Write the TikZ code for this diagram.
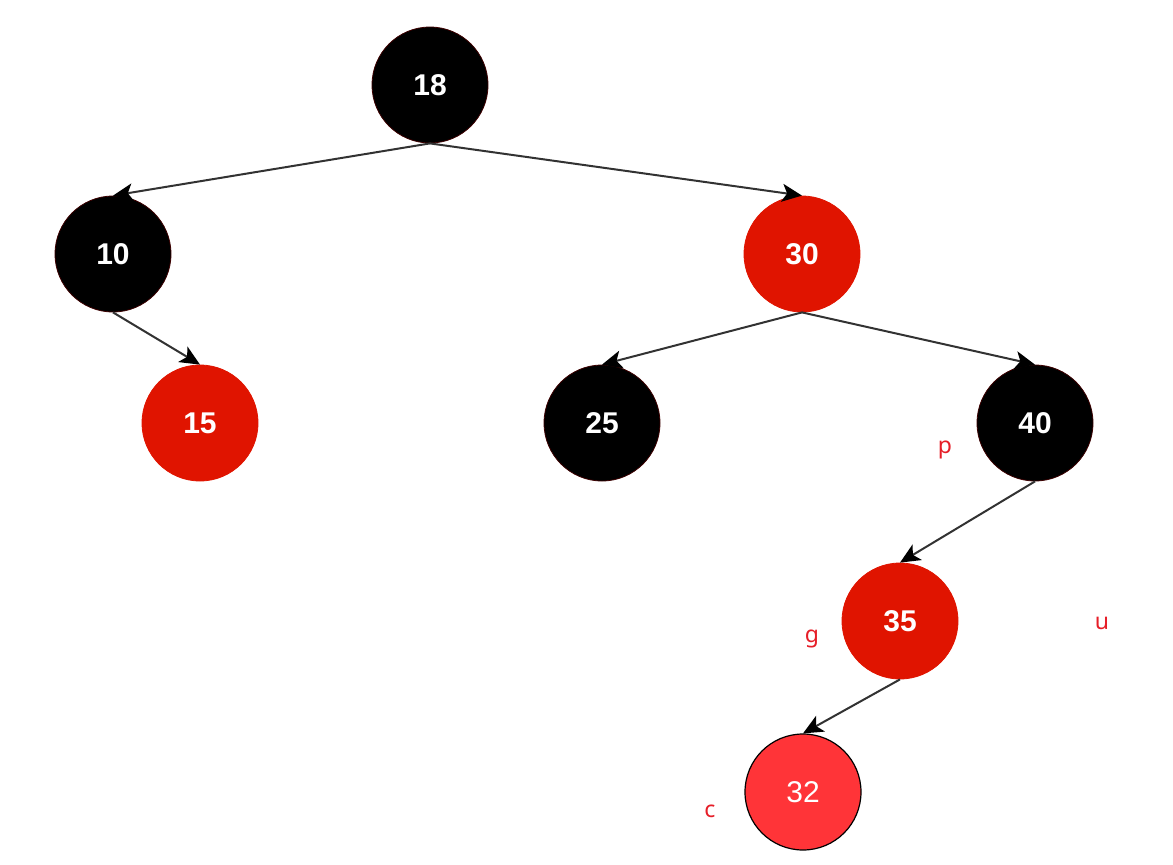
\documentclass[tikz,border=0pt]{standalone}
\usepackage{fontspec}
\setmainfont{Liberation Sans}
\newfontfamily\lblfont{Noto Sans}
\usetikzlibrary{arrows.meta}
\definecolor{rbred}{RGB}{224,20,0}
\definecolor{rblight}{RGB}{255,52,56}
\definecolor{lblred}{RGB}{230,30,40}
\definecolor{edgegray}{RGB}{50,50,50}
\begin{document}
\begin{tikzpicture}[x=1pt,y=-1pt,
  rbnode/.style={circle,minimum size=116pt,inner sep=0pt,text=white,font=\fontsize{30}{32}\selectfont\bfseries},
  blk/.style={rbnode,fill=black,draw={rgb,255:red,60;green,0;blue,0},line width=0.8pt},
  redn/.style={rbnode,fill=rbred,draw=rbred,line width=0.8pt},
  newn/.style={rbnode,fill=rblight,draw=black,line width=1.2pt,font=\fontsize{30}{32}\selectfont},
  edge/.style={draw=edgegray,line width=2pt,-{Stealth[length=20pt,width=18pt,inset=5pt,color=black,fill=black]}},
  lbl/.style={text=lblred,font=\lblfont\fontsize{23}{25}\selectfont}]
\useasboundingbox (0,0) rectangle (1173,865);
\node[blk] (n18) at (430,85) {18};
\node[blk] (n10) at (113,254) {10};
\node[redn] (n30) at (802,254) {30};
\node[redn] (n15) at (200,423) {15};
\node[blk] (n25) at (602,423) {25};
\node[blk] (n40) at (1035,423) {40};
\node[redn] (n35) at (900,621) {35};
\node[newn] (n32) at (803,792) {32};
\draw[edge] (n18.south) -- (n10.north);
\draw[edge] (n18.south) -- (n30.north);
\draw[edge] (n10.south) -- (n15.north);
\draw[edge] (n30.south) -- (n25.north);
\draw[edge] (n30.south) -- (n40.north);
\draw[edge] (n40.south) -- (n35.north);
\draw[edge] (n35.south) -- (n32.north);
\node[lbl] (lp) at (945,450) {p};
\node[lbl] (lg) at (812,639) {g};
\node[lbl] (lu) at (1102,623) {u};
\node[lbl] (lc) at (710,811) {c};
\end{tikzpicture}
\end{document}
